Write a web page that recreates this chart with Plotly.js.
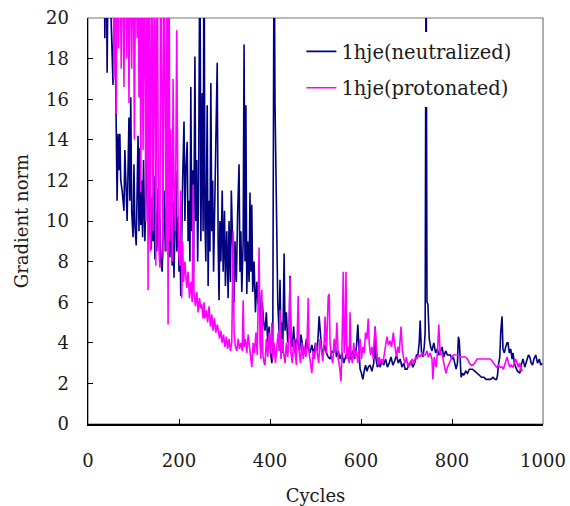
<!DOCTYPE html>
<html>
<head>
<meta charset="utf-8">
<script src="https://cdn.plot.ly/plotly-3.0.1.min.js"></script>
<style>html,body{margin:0;padding:0;background:#fff;}#chart{width:570px;height:506px;}</style>
</head>
<body>
<div id="chart"></div>
<script>
// Series names
const seriesNames = ["1hje(neutralized)", "1hje(protonated)"];
// Tick values
const xTicks = [0, 200, 400, 600, 800, 1000];
const yTicks = [0, 2, 4, 6, 8, 10, 12, 14, 16, 18, 20];

// 1hje(neutralized): cycle, gradient norm (values above 20 run off the top of the plot)
const neutCycles = [35,37,40,42,45,50,55,58,62,64,66,68,70,72,75,77,79,81,83,86,88,90,92,94,96,99,101,103,106,108,110,112,114,116,118,120,122,125,127,130,132,134,136,139,141,143,145,147,149,151,154,156,158,160,163,165,167,170,172,174,177,180,182,185,187,189,191,193,195,198,200,202,204,206,208,211,213,215,218,220,222,224,226,228,230,232,235,237,239,241,243,246,248,251,253,255,257,259,262,264,266,268,270,272,274,276,278,281,284,286,288,290,292,295,297,300,302,305,308,310,313,315,318,321,323,326,329,332,334,336,338,341,343,345,347,349,351,354,356,358,360,362,365,368,371,374,377,380,383,386,389,392,395,398,401,404,406,409,411,413,415,417,420,422,424,426,428,431,433,436,439,442,444,446,449,452,455,458,462,465,468,472,476,480,484,488,492,496,500,504,508,510,513,516,520,524,528,532,536,540,543,546,550,554,558,562,566,570,574,578,582,586,590,593,596,598,601,604,607,610,613,616,620,624,628,631,633,636,640,642,646,650,654,658,662,666,670,674,678,682,686,690,694,697,701,705,710,714,718,722,725,728,730,733,736,739,741,743,745,747,750,753,756,760,764,768,771,774,778,782,786,790,796,800,803,806,809,812,814,816,818,820,823,826,830,834,838,840,845,850,855,860,865,870,875,880,885,890,895,898,900,902,905,907,910,912,915,918,921,923,926,929,932,934,937,940,944,949,952,956,960,964,968,971,974,977,980,984,988,992,995,998];
const neutValues = [25,19.0,25,17.3,25,20.5,16.7,22,15.2,11.0,14.3,12.5,14.3,12.0,11.5,10.8,10.5,13.5,12.0,10.0,12.5,15.1,11.0,16.1,10.5,9.2,12.8,9.8,8.8,11.5,14.2,9.5,13.6,9.8,12.0,9.2,13.0,9.0,11.5,13.5,10.0,14.7,9.5,8.6,11.2,9.0,12.2,8.1,10.5,8.5,11.6,8.8,10.2,8.0,7.5,10.0,11.5,8.5,10.8,9.0,12.0,8.2,10.5,7.8,11.0,7.2,9.5,12.5,8.5,10.2,7.5,9.0,6.3,10.5,12.0,14.9,10.0,12.5,13.9,9.0,11.0,8.0,16.6,9.5,12.5,7.5,18.1,10.0,13.0,8.0,11.5,25,9.0,16.3,9.5,25,10.0,8.0,15.7,6.8,11.0,8.5,16.8,9.5,12.0,7.5,10.5,13.8,17.8,9.0,6.1,10.0,8.0,11.5,7.5,10.5,6.8,9.5,6.2,10.0,7.0,11.5,8.0,6.0,9.0,7.0,10.5,12.8,7.5,9.5,6.5,9.0,18.7,8.0,15.7,6.4,9.0,7.0,11.4,7.5,10.8,6.5,8.0,5.5,7.0,5.9,6.5,4.8,6.0,5.0,4.6,5.5,4.0,4.8,3.6,3.0,3.5,25,15.8,12.7,8.5,6.0,4.5,7.1,4.2,5.0,3.5,8.4,4.6,5.5,4.0,4.5,7.3,4.2,3.8,4.8,3.5,4.2,4.0,3.6,4.4,3.8,3.5,4.2,3.7,3.5,3.9,3.4,4.0,3.6,5.3,4.7,3.8,3.4,3.9,3.5,3.3,3.2,3.6,3.5,4.1,3.3,3.6,3.2,3.5,3.0,3.3,3.6,3.1,3.4,3.6,3.2,3.8,4.9,3.2,2.7,2.5,2.2,2.6,2.9,2.6,2.8,2.9,2.6,3.0,4.8,3.2,2.8,3.0,2.8,3.1,2.9,3.2,2.8,3.0,3.3,2.9,3.1,3.4,3.0,3.2,2.8,3.0,2.7,2.7,2.9,3.1,2.8,3.0,3.4,3.4,4.0,5.1,3.5,3.3,3.8,4.5,25,6.0,5.9,4.2,3.8,3.6,4.0,3.5,3.7,3.4,3.5,3.8,3.3,3.6,3.4,3.4,3.2,3.3,3.0,2.7,3.0,4.3,4.1,2.6,2.3,2.5,2.4,2.6,2.5,2.7,2.7,2.7,2.6,2.5,2.4,2.3,2.3,2.2,2.2,2.2,2.3,2.2,2.2,2.4,2.9,3.3,4.5,5.3,3.7,3.5,3.8,4.0,4.0,3.5,3.7,3.2,3.5,3.0,2.8,2.6,2.5,2.9,3.2,2.8,3.1,3.4,3.3,3.0,2.9,3.2,3.4,3.0,3.2,2.9,3.0];

// 1hje(protonated): cycle, gradient norm
const protCycles = [55,57,60,62,64,67,70,73,76,79,82,85,88,90,93,96,99,102,105,108,110,112,114,116,118,121,124,127,130,132,134,137,140,143,146,149,152,155,158,160,163,165,167,170,172,174,176,178,180,182,185,187,189,192,195,197,199,202,204,206,208,210,213,217,220,223,226,229,231,233,236,239,242,245,248,250,253,255,257,260,263,266,269,272,275,278,281,284,286,289,292,295,298,301,304,307,310,313,316,319,321,324,327,330,333,336,339,341,343,346,349,352,355,358,360,363,366,369,372,374,376,378,380,382,384,387,389,392,395,398,401,404,406,409,412,415,418,420,422,424,427,430,433,436,439,442,444,446,449,452,455,458,460,462,464,467,470,473,476,479,482,484,486,489,492,495,498,501,504,507,510,513,516,519,521,524,526,528,530,532,535,538,541,544,547,550,553,556,558,561,563,565,567,569,572,574,576,578,581,584,587,590,593,596,598,601,604,607,610,613,616,618,621,624,627,631,634,637,640,642,645,648,651,654,657,660,664,667,671,674,678,681,684,688,691,694,697,700,703,706,708,712,716,720,723,727,730,734,738,741,745,748,752,756,758,761,765,768,771,774,778,782,785,787,790,794,798,802,807,812,818,824,830,834,838,842,846,850,855,860,866,872,878,884,888,891,894,898,902,906,910,913,917,921,924,927,930,934,937,940,943,946,949,952,955];
const protValues = [25,17.0,25,15.3,25,18.5,25,17.5,25,16.6,25,18.0,25,15.8,25,17.5,25,14.0,25,19.0,25,16.1,25,11.4,25,13.5,25,10.0,25,6.6,25,8.5,25,9.5,25,7.8,25,9.0,7.7,25,10.5,8.2,25,11.0,8.5,25,4.9,25,9.0,14.5,8.0,17.0,12.0,9.5,19.4,12.5,8.5,7.8,11.5,6.2,9.0,7.0,8.0,6.7,7.5,6.2,7.0,6.0,11.8,6.5,5.8,6.5,5.5,6.2,5.7,5.9,5.2,6.0,5.2,5.6,5.0,5.8,4.8,5.4,4.6,5.2,4.5,4.9,4.7,4.2,4.6,4.0,4.4,3.8,4.3,3.7,4.2,3.6,4.0,9.5,4.5,3.8,3.6,4.2,3.7,4.0,3.6,6.1,3.8,4.2,3.5,4.4,3.6,3.2,2.8,4.0,3.5,4.5,3.4,5.5,8.7,4.0,3.2,6.6,3.5,3.0,2.9,4.2,3.3,4.5,3.5,5.0,3.2,4.0,3.0,3.8,4.5,3.6,5.6,3.2,4.2,3.5,3.0,4.0,3.3,4.5,7.2,3.5,3.0,4.2,3.4,2.9,4.5,6.3,3.6,3.0,4.0,3.2,3.8,3.3,4.4,6.2,3.5,3.0,2.5,3.6,3.2,4.0,3.4,3.0,4.2,3.5,3.1,4.0,5.3,3.5,4.5,6.3,6.4,4.0,3.3,3.0,4.2,3.5,5.0,3.2,2.8,2.1,3.5,7.5,3.5,4.0,7.5,3.2,3.8,3.0,5.5,3.4,3.0,4.0,3.3,3.6,3.0,3.8,4.2,3.2,3.8,3.5,4.5,4.2,5.2,4.0,3.4,3.8,3.2,4.8,3.6,2.9,3.3,3.0,3.2,3.0,3.4,3.8,4.3,3.9,4.1,3.8,4.5,3.9,3.3,3.8,3.5,4.8,3.6,3.2,3.0,3.3,2.8,3.0,2.9,3.2,3.0,3.3,3.2,3.4,3.3,3.5,3.4,3.4,3.6,3.3,3.5,3.2,2.2,3.3,2.8,3.5,4.9,3.4,3.5,3.0,2.7,2.5,2.8,3.0,3.2,3.4,3.4,3.4,3.3,3.3,3.3,3.2,3.0,2.9,2.9,3.0,3.2,3.2,3.2,3.2,3.2,3.2,3.1,3.0,2.9,2.8,2.9,2.8,2.8,2.7,3.0,3.3,3.0,2.8,2.9,2.8,3.0,3.2,3.0,2.8,3.0,2.6,2.7];

const serif = "'DejaVu Serif', 'Liberation Serif', serif";
const txtColor = "#1a1a1a";

const traces = [
  {x: neutCycles, y: neutValues, type: "scatter", mode: "lines", name: seriesNames[0],
   legendgroup: "a", line: {color: "#000080", width: 1.6}},
  {x: protCycles, y: protValues, type: "scatter", mode: "lines", name: seriesNames[1],
   legendgroup: "b", line: {color: "#FF00FF", width: 1.6}}
];

const layout = {
  width: 570, height: 506,
  margin: {l: 88, r: 27, t: 18, b: 82, pad: 0},
  paper_bgcolor: "#fff", plot_bgcolor: "#fff",
  font: {family: serif, size: 18, color: txtColor},
  showlegend: true,
  legend: {x: 0.469, y: 0.965, xanchor: "left", yanchor: "top", bgcolor: "#fff",
           font: {family: serif, size: 19.5, color: txtColor}, tracegroupgap: 8, itemwidth: 30},
  xaxis: {range: [0, 1000], tickvals: xTicks, ticks: "inside", ticklen: 5, tickcolor: "#000",
          showline: true, linecolor: "#000", linewidth: 1.5, showgrid: false, zeroline: false,
          ticklabelstandoff: 20, tickfont: {family: serif, size: 18, color: txtColor},
          title: {text: "Cycles", font: {family: serif, size: 18, color: txtColor}, standoff: 20}},
  yaxis: {range: [0, 20], tickvals: yTicks, ticks: "inside", ticklen: 5, tickcolor: "#000",
          showline: true, linecolor: "#000", linewidth: 1.5, showgrid: false, zeroline: false,
          ticklabelstandoff: 14, tickfont: {family: serif, size: 18, color: txtColor},
          title: {text: "Gradient norm", font: {family: serif, size: 18, color: txtColor}, standoff: 12}},
  shapes: [{type: "rect", xref: "paper", yref: "paper", x0: 0, x1: 1, y0: 0, y1: 1,
            line: {color: "#777", width: 1.2}, layer: "below"}]
};

Plotly.newPlot("chart", traces, layout, {displayModeBar: false, staticPlot: true});
</script>
</body>
</html>
